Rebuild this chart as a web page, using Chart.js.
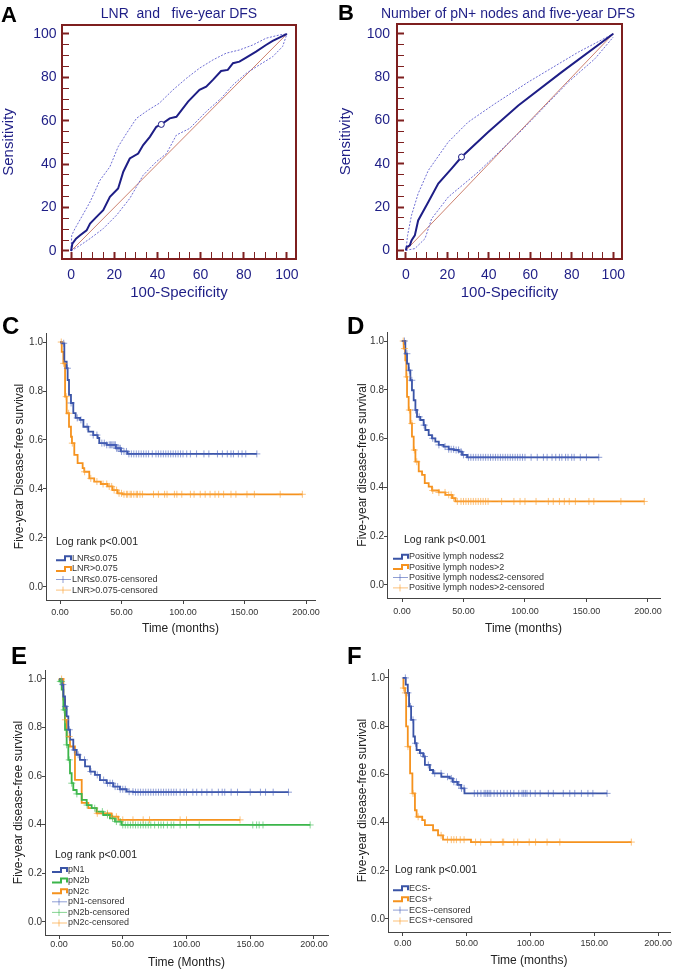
<!DOCTYPE html>
<html>
<head>
<meta charset="utf-8">
<script src="https://cdn.jsdelivr.net/npm/chart.js@4.4.1/dist/chart.umd.min.js"></script>
<style>
  body { margin: 0; background: #fff; width: 675px; height: 971px; position: relative; overflow: hidden; font-family: Arial, "Liberation Sans", sans-serif; }
  canvas { position: absolute; }
  .lt { position: absolute; font-weight: bold; color: #000; line-height: 1; }
  .rt { position: absolute; color: #1e1e86; font-size: 14px; text-align: center; white-space: pre; line-height: 1; }
</style>
</head>
<body>
<canvas id="cA" width="335" height="305" style="left:0;top:0"></canvas>
<canvas id="cB" width="340" height="305" style="left:335px;top:0"></canvas>
<canvas id="cC" width="335" height="330" style="left:0;top:310px"></canvas>
<canvas id="cD" width="340" height="330" style="left:335px;top:310px"></canvas>
<canvas id="cE" width="335" height="331" style="left:0;top:640px"></canvas>
<canvas id="cF" width="340" height="331" style="left:335px;top:640px"></canvas>

<div class="lt" style="left:1px;top:4px;font-size:22px">A</div>
<div class="lt" style="left:338px;top:2px;font-size:22px">B</div>
<div class="lt" style="left:2px;top:314px;font-size:24px">C</div>
<div class="lt" style="left:347px;top:314px;font-size:24px">D</div>
<div class="lt" style="left:11px;top:644px;font-size:24px">E</div>
<div class="lt" style="left:347px;top:644px;font-size:24px">F</div>
<div class="rt" style="left:59px;top:6px;width:240px">LNR  and   five-year DFS</div>
<div class="rt" style="left:378px;top:6px;width:260px">Number of pN+ nodes and five-year DFS</div>

<script>
Chart.defaults.font.family = 'Arial, "Liberation Sans", Helvetica, sans-serif';

// ---------- ROC A: LNR and five-year DFS ----------
const rocA_fpr  = [0, 0.6, 2.3, 4.2, 7.2, 8.8, 11.8, 14.9, 18, 21.8, 24.2, 27.2, 31.1, 33.4, 36.5, 39.5, 41.8, 45.7, 48.8, 54.2, 59.5, 62.6, 65.7, 69.5, 72.6, 75, 78, 81.1, 85.7, 90.3, 93.4, 96.5, 100];
const rocA_sens = [0, 3.4, 5.7, 7.2, 9.5, 12.6, 15.7, 18.8, 24.9, 28.8, 36.5, 42.6, 44.9, 48.8, 52.6, 57.2, 58.3, 61.1, 61.8, 68.8, 74.2, 75.7, 78.8, 82.9, 83.4, 86.5, 87.2, 89.1, 91.8, 94.9, 96.8, 98.3, 100];
const rocA_upFpr  = [0, 0.3, 1.8, 4.9, 8.8, 13.4, 18, 21.8, 25.7, 30.3, 35.7, 40.8, 47.2, 53.4, 59.5, 65.7, 71.8, 78, 84.2, 90.3, 96.5, 100];
const rocA_upSens = [0, 7.2, 10.3, 15.7, 22.6, 32.6, 38.8, 48, 54.2, 61.1, 64.9, 68, 74.2, 79.5, 84.2, 88, 91.1, 92.6, 94.9, 98, 99.5, 100];
const rocA_loFpr  = [0, 1.8, 4.2, 8.8, 14.9, 21.1, 27.2, 33.4, 39.5, 44.2, 48.8, 55, 62.6, 69.5, 75, 81.1, 87.2, 93.4, 98, 100];
const rocA_loSens = [0, 1.1, 2.6, 5.7, 10.3, 16.5, 24.2, 34.9, 41.1, 44.9, 53.4, 56.5, 64.2, 70.3, 76.5, 81.8, 85.7, 89.5, 94.2, 100];
const rocA_cut = [41.8, 58.3];

// ---------- ROC B: number of pN+ nodes and five-year DFS ----------
const rocB_fpr  = [0, 0.3, 1.9, 2.7, 4.3, 5.9, 10.8, 15.6, 22, 26.8, 39.7, 54.2, 75.1, 100];
const rocB_sens = [0, 1.5, 2.3, 4.6, 6.9, 13.8, 22.3, 30.8, 37.7, 43.1, 54.6, 66.9, 82.3, 100];
const rocB_upFpr  = [0, 0.8, 2.7, 5.9, 10.8, 20.4, 30, 42.9, 59, 83.1, 100];
const rocB_upSens = [0, 6.9, 16.2, 26.2, 36.9, 50, 59.2, 67.7, 77.7, 91.5, 100];
const rocB_loFpr  = [0, 4.3, 9.2, 12.4, 20.4, 34.9, 55.8, 78.3, 91.2, 100];
const rocB_loSens = [0, 0.8, 5.4, 14.6, 24.6, 36.2, 55.4, 77.7, 88.5, 98.5];
const rocB_cut = [26.8, 43.1];

const diagonal = [0, 100];
const rocTicks = [0, 5, 10, 15, 20, 25, 30, 35, 40, 45, 50, 55, 60, 65, 70, 75, 80, 85, 90, 95, 100];
const rocLabelled = [0, 20, 40, 60, 80, 100];

// ---------- Kaplan-Meier curves ----------
const kmYTicks = [0, 0.2, 0.4, 0.6, 0.8, 1.0];
const kmXTicks = [0, 50, 100, 150, 200];

// C: LNR
const lnrLow_t  = [0, 1.4, 3.5, 5.4, 6.2, 7.3, 8.9, 10.8, 12.7, 16.3, 19, 23, 27, 30.6, 31.9, 38, 45.4, 49.5, 54.9, 160];
const lnrLow_s  = [1, 0.995, 0.92, 0.893, 0.845, 0.784, 0.751, 0.71, 0.69, 0.682, 0.654, 0.634, 0.62, 0.608, 0.587, 0.58, 0.566, 0.553, 0.543, 0.543];
const lnrLow_cens = [3, 6, 9, 14, 17, 22, 27, 30, 34, 36, 38, 40, 41, 42, 43, 44, 45, 46, 47, 48, 49, 50, 52, 54, 56, 58, 60, 62, 64, 66, 68, 70, 72, 75, 78, 80, 82, 84, 86, 88, 90, 92, 94, 96, 98, 100, 103, 106, 111, 117, 121, 128, 132, 136, 139, 141, 145, 148, 151, 160];
const lnrHigh_t = [0, 1.4, 2.7, 4.1, 5.4, 7.3, 8.9, 9.7, 11.6, 14.3, 18.4, 19.7, 23.8, 27.8, 33.2, 38.6, 42.7, 46.8, 50.8, 197];
const lnrHigh_s = [1, 0.96, 0.913, 0.777, 0.709, 0.654, 0.613, 0.587, 0.539, 0.505, 0.485, 0.47, 0.443, 0.43, 0.42, 0.41, 0.395, 0.382, 0.378, 0.378];
const lnrHigh_cens = [1, 3, 5, 7, 10, 20, 25, 30, 35, 38, 40, 42, 44, 46, 48, 50, 52, 54, 55, 57, 58, 60, 62, 63, 65, 67, 76, 80, 85, 87, 93, 95, 99, 106, 109, 114, 118, 122, 126, 129, 133, 139, 143, 152, 158, 179, 197];

// D: number of positive lymph nodes
const pln2_t = [0, 2.7, 4.1, 5.4, 6.8, 8.1, 9.5, 10.9, 12.2, 14.9, 17.6, 19, 21.7, 24.4, 27.1, 29.9, 33.9, 38, 42.1, 46.1, 48.8, 52.9, 160];
const pln2_s = [1, 0.948, 0.907, 0.88, 0.839, 0.798, 0.757, 0.717, 0.689, 0.676, 0.655, 0.635, 0.614, 0.601, 0.587, 0.574, 0.567, 0.556, 0.553, 0.546, 0.533, 0.523, 0.523];
const pln2_cens = [2, 4, 6, 8, 11, 14, 18, 25, 30, 35, 38, 40, 42, 44, 46, 48, 50, 54, 56, 58, 60, 62, 64, 66, 68, 70, 72, 74, 76, 78, 80, 82, 84, 86, 88, 90, 92, 94, 96, 98, 100, 105, 110, 115, 118, 122, 125, 128, 130, 133, 135, 138, 140, 145, 150, 160];
const plnGt2_t = [0, 1.4, 2.7, 3.5, 4.1, 5.4, 6.8, 8.1, 9.5, 10.9, 13.6, 16.3, 18.5, 21.7, 24.4, 29.9, 35.3, 40.7, 43.4, 197];
const plnGt2_s = [1, 0.969, 0.921, 0.853, 0.771, 0.717, 0.662, 0.608, 0.553, 0.505, 0.465, 0.451, 0.417, 0.403, 0.387, 0.379, 0.369, 0.356, 0.342, 0.342];
const plnGt2_cens = [1, 2, 4, 6, 8, 10, 12, 25, 30, 35, 38, 40, 42, 45, 48, 50, 52, 54, 56, 58, 60, 62, 64, 66, 68, 70, 81, 91, 96, 100, 109, 119, 123, 128, 132, 136, 141, 152, 156, 178, 197];

// E: pN stage
const pN1_t = [0, 2.1, 3.4, 4.7, 6, 7.3, 8.6, 11.2, 13.8, 16.4, 20.4, 24.3, 28.2, 32.1, 37.3, 42.6, 47.8, 53, 58.2, 180];
const pN1_s = [1, 0.977, 0.928, 0.887, 0.846, 0.791, 0.75, 0.708, 0.688, 0.667, 0.64, 0.619, 0.605, 0.584, 0.571, 0.557, 0.546, 0.536, 0.534, 0.534];
const pN1_cens = [3, 5, 8, 12, 15, 20, 25, 30, 35, 38, 40, 42, 44, 46, 48, 50, 52, 55, 58, 60, 62, 64, 66, 68, 70, 72, 74, 76, 78, 80, 82, 84, 86, 88, 90, 92, 95, 98, 100, 105, 108, 112, 116, 120, 125, 128, 130, 135, 140, 150, 158, 162, 168, 180];
const pN2b_t = [0, 0.3, 2.1, 3.4, 4.7, 6, 7.3, 8.6, 9.9, 11.2, 13.8, 17.8, 21.7, 25.6, 29.5, 34.7, 39.9, 43.9, 49.1, 197];
const pN2b_s = [1, 0.99, 0.956, 0.873, 0.791, 0.729, 0.667, 0.612, 0.571, 0.543, 0.527, 0.502, 0.481, 0.468, 0.454, 0.44, 0.426, 0.413, 0.399, 0.399];
const pN2b_cens = [1, 2, 4, 6, 8, 10, 14, 22, 28, 34, 38, 42, 45, 48, 50, 52, 54, 56, 58, 60, 62, 64, 66, 68, 70, 72, 75, 78, 80, 82, 85, 88, 90, 95, 100, 110, 152, 155, 157, 160, 197];
const pN2c_t = [0, 3.4, 4.7, 6, 8.6, 12.5, 17.8, 23, 29.5, 41.2, 46.5, 142];
const pN2c_s = [1, 0.915, 0.832, 0.763, 0.722, 0.585, 0.49, 0.468, 0.447, 0.433, 0.42, 0.42];
const pN2c_cens = [2, 5, 8, 30, 38, 42, 45, 50, 58, 66, 71, 95, 100, 142];

// F: extracapsular spread
const ecsNeg_t = [0, 2.3, 3.9, 4.9, 6.5, 8.3, 9.5, 10.8, 13.4, 16, 17.3, 21.2, 23.7, 30.2, 36.6, 39.2, 43.1, 45.7, 48.3, 160];
const ecsNeg_s = [1, 0.972, 0.938, 0.882, 0.826, 0.757, 0.729, 0.701, 0.688, 0.674, 0.639, 0.618, 0.604, 0.59, 0.583, 0.569, 0.556, 0.542, 0.521, 0.521];
const ecsNeg_cens = [2, 4, 6, 8, 10, 14, 17, 20, 25, 30, 35, 38, 40, 42, 44, 46, 48, 56, 58.6, 61.2, 63.7, 65, 66.3, 67.6, 68.9, 71.5, 74, 76.6, 79.2, 81.8, 84.4, 87, 90.8, 93.4, 94.7, 96, 97.3, 99.9, 103.7, 107.6, 114, 117.9, 125.7, 130.8, 134.7, 139.9, 145, 148.9, 160];
const ecsPos_t = [0, 0.5, 1.8, 2.6, 3.9, 5.7, 7.5, 9.5, 10.8, 15.2, 17.3, 23.7, 27.6, 31.5, 53.4, 179];
const ecsPos_s = [1, 0.958, 0.938, 0.799, 0.715, 0.604, 0.521, 0.451, 0.424, 0.41, 0.389, 0.368, 0.347, 0.329, 0.319, 0.319];
const ecsPos_cens = [0.5, 2, 4, 8, 12, 30, 35, 38, 40, 42, 45, 48, 57, 61, 69, 78, 79, 87, 90, 99, 104, 113, 123, 179];

// ---------- styles ----------
const NAVY = '#1e1e86', CI = '#6d6dd4', DIAG = '#cc806e', FRAME = '#7e1f1f';
const BLUE = '#3a54a6', ORANGE = '#f5921e', GREEN = '#3bb54a';
const BLUE_L = 'rgba(70,95,185,0.6)', ORANGE_L = 'rgba(250,160,50,0.65)', GREEN_L = 'rgba(70,190,90,0.65)';

function pts(xs, ys) { return xs.map((x, i) => ({ x: x, y: ys[i] })); }
function stepAt(ts, ss, time) {
  let v = ss[0];
  for (let i = 0; i < ts.length; i++) { if (ts[i] <= time) v = ss[i]; }
  return v;
}

const framePlugin = {
  id: 'frame',
  afterDraw(chart) {
    const a = chart.chartArea, ctx = chart.ctx;
    ctx.save();
    ctx.strokeStyle = FRAME;
    ctx.lineWidth = 2;
    ctx.strokeRect(a.left, a.top, a.right - a.left, a.bottom - a.top);
    ctx.restore();
  }
};

function rocChart(id, c) {
  // one axis per side: ticks every 5, inward (negative length), labels only on multiples of 20
  const axis = (pos, min, max, size, text, titlePad, tickPad) => ({
    type: 'linear', position: pos, min: min, max: max,
    afterBuildTicks: s => { s.ticks = rocTicks.map(v => ({ value: v })); },
    afterFit: s => { if (pos === 'bottom') s.height = size; else s.width = size; },
    ticks: {
      color: NAVY, font: { size: 14 }, padding: tickPad, maxRotation: 0, autoSkip: false,
      callback: v => rocLabelled.includes(v) ? String(v) : ''
    },
    grid: {
      drawOnChartArea: false, tickLength: -7, tickColor: FRAME,
      tickWidth: ctx => (ctx.tick && rocLabelled.includes(ctx.tick.value)) ? 2 : 1
    },
    border: { display: false },
    title: { display: true, text: text, color: NAVY, font: { size: 15 }, padding: titlePad }
  });

  new Chart(document.getElementById(id), {
    type: 'line',
    data: {
      datasets: [
        { data: pts([c.cut[0]], [c.cut[1]]), pointRadius: 3, pointBackgroundColor: '#fff', pointBorderColor: NAVY, pointBorderWidth: 1, showLine: false },
        { data: pts(c.fpr, c.sens), borderColor: NAVY, borderWidth: 2, pointRadius: 0 },
        { data: pts(c.upFpr, c.upSens), borderColor: CI, borderWidth: 1, borderDash: [2, 1.5], pointRadius: 0 },
        { data: pts(c.loFpr, c.loSens), borderColor: CI, borderWidth: 1, borderDash: [2, 1.5], pointRadius: 0 },
        { data: pts(diagonal, diagonal), borderColor: DIAG, borderWidth: 1, pointRadius: 0 }
      ]
    },
    options: {
      responsive: false, animation: false,
      layout: { padding: { left: 0, top: c.top, right: c.right, bottom: 0 } },
      plugins: { legend: { display: false }, tooltip: { enabled: false } },
      scales: {
        x: axis('bottom', c.xmin, c.xmax, c.xh, '100-Specificity', { top: 0, bottom: 3 }, 14.6),
        y: axis('left', c.ymin, c.ymax, c.yw, 'Sensitivity', { top: c.ytp, bottom: 0 }, c.ylp)
      }
    },
    plugins: [framePlugin]
  });
}

const kmLegend = {
  id: 'kmLegend',
  afterDraw(chart, args, o) {
    const ctx = chart.ctx;
    ctx.save();
    ctx.textBaseline = 'middle';
    ctx.fillStyle = '#222';
    ctx.font = '10.5px Arial, "Liberation Sans", sans-serif';
    ctx.fillText('Log rank p<0.001', o.logX, o.logY);
    ctx.font = '9px Arial, "Liberation Sans", sans-serif';
    let y = o.rowY;
    const x = o.iconX;
    o.series.forEach(sr => {
      ctx.strokeStyle = sr.color; ctx.lineWidth = 2;
      ctx.beginPath();
      ctx.moveTo(x, y + 2); ctx.lineTo(x + 9, y + 2); ctx.lineTo(x + 9, y - 2);
      ctx.lineTo(x + 15, y - 2); ctx.lineTo(x + 15, y + 2);
      ctx.stroke();
      ctx.fillStyle = '#333';
      ctx.fillText(sr.label, x + 16, y);
      y += o.gap;
    });
    o.series.forEach(sr => {
      ctx.strokeStyle = sr.light; ctx.lineWidth = 1;
      ctx.beginPath();
      ctx.moveTo(x, y); ctx.lineTo(x + 15, y);
      ctx.moveTo(x + 7, y - 3.5); ctx.lineTo(x + 7, y + 3.5);
      ctx.stroke();
      ctx.fillStyle = '#333';
      ctx.fillText(sr.label + '-censored', x + 16, y);
      y += o.gap;
    });
    ctx.restore();
  }
};

function kmChart(id, c) {
  const datasets = [];
  c.series.forEach(sr => {
    datasets.push({ data: sr.cens.map(t => ({ x: t, y: stepAt(sr.t, sr.s, t) })), showLine: false,
      pointStyle: 'cross', pointRadius: 3.5, pointBorderColor: sr.light, pointBorderWidth: 1 });
  });
  c.series.forEach(sr => {
    datasets.push({ data: pts(sr.t, sr.s), borderColor: sr.color, borderWidth: 1.8, stepped: true, pointRadius: 0 });
  });
  new Chart(document.getElementById(id), {
    type: 'line',
    data: { datasets: datasets },
    options: {
      responsive: false, animation: false,
      layout: { padding: { left: 0, top: c.top, right: c.right, bottom: 0 } },
      plugins: {
        legend: { display: false }, tooltip: { enabled: false },
        kmLegend: { series: c.series, logX: c.leg[0], logY: c.leg[1], iconX: c.leg[2], rowY: c.leg[3], gap: c.leg[4] }
      },
      scales: {
        x: {
          type: 'linear', min: c.xmin, max: c.xmax,
          afterBuildTicks: s => { s.ticks = kmXTicks.map(v => ({ value: v })); },
          afterFit: s => { s.height = c.xh; },
          ticks: { color: '#333', font: { size: 9 }, padding: c.xlp, maxRotation: 0, autoSkip: false, callback: v => v.toFixed(2) },
          grid: { drawOnChartArea: false, tickLength: 4, tickColor: '#444' },
          border: { color: '#444', width: 1 },
          title: { display: true, text: c.xtitle, color: '#222', font: { size: 12 }, padding: { top: 0, bottom: c.xtp } }
        },
        y: {
          type: 'linear', min: -0.054, max: 1.037,
          afterBuildTicks: s => { s.ticks = kmYTicks.map(v => ({ value: v })); },
          afterFit: s => { s.width = c.yw; },
          ticks: { color: '#333', font: { size: 10 }, padding: 0, autoSkip: false, callback: v => v.toFixed(1) },
          grid: { drawOnChartArea: false, tickLength: 3, tickColor: '#444' },
          border: { color: '#444', width: 1 },
          title: { display: true, text: c.ytitle, color: '#222', font: { size: 12 }, padding: { top: c.ytp, bottom: 0 } }
        }
      }
    },
    plugins: [kmLegend]
  });
}

rocChart('cA', {
  fpr: rocA_fpr, sens: rocA_sens, upFpr: rocA_upFpr, upSens: rocA_upSens, loFpr: rocA_loFpr, loSens: rocA_loSens, cut: rocA_cut,
  xmin: -4.2, xmax: 104.2, ymin: -3.7, ymax: 104.1, top: 25, right: 39, xh: 46, yw: 62, ytp: 0, ylp: 12.5
});
rocChart('cB', {
  fpr: rocB_fpr, sens: rocB_sens, upFpr: rocB_upFpr, upSens: rocB_upSens, loFpr: rocB_loFpr, loSens: rocB_loSens, cut: rocB_cut,
  xmin: -4.3, xmax: 104.2, ymin: -4.0, ymax: 104.5, top: 24, right: 53, xh: 46, yw: 62, ytp: 2, ylp: 14
});

kmChart('cC', {
  series: [
    { label: 'LNR≤0.075', t: lnrLow_t, s: lnrLow_s, cens: lnrLow_cens, color: BLUE, light: BLUE_L },
    { label: 'LNR>0.075', t: lnrHigh_t, s: lnrHigh_s, cens: lnrHigh_cens, color: ORANGE, light: ORANGE_L }
  ],
  xmin: -11.4, xmax: 207.3, top: 23, right: 20, xh: 40, yw: 46, xlp: 2.9, xtp: 3.8, ytp: 12.8,
  xtitle: 'Time (months)', ytitle: 'Five-year Disease-free survival', leg: [56, 232, 56, 248.3, 10.6]
});
kmChart('cD', {
  series: [
    { label: 'Positive lymph nodes≤2', t: pln2_t, s: pln2_s, cens: pln2_cens, color: BLUE, light: BLUE_L },
    { label: 'Positive lymph nodes>2', t: plnGt2_t, s: plnGt2_s, cens: plnGt2_cens, color: ORANGE, light: ORANGE_L }
  ],
  xmin: -12.2, xmax: 209.8, top: 22, right: 15, xh: 42, yw: 52, xlp: 4.3, xtp: 3.8, ytp: 20.3,
  xtitle: 'Time (months)', ytitle: 'Five-year disease-free survival', leg: [69, 230, 58, 246.7, 10.4]
});
kmChart('cE', {
  series: [
    { label: 'pN1', t: pN1_t, s: pN1_s, cens: pN1_cens, color: BLUE, light: BLUE_L },
    { label: 'pN2b', t: pN2b_t, s: pN2b_s, cens: pN2b_cens, color: GREEN, light: GREEN_L },
    { label: 'pN2c', t: pN2c_t, s: pN2c_s, cens: pN2c_cens, color: ORANGE, light: ORANGE_L }
  ],
  xmin: -11, xmax: 211, top: 30, right: 7, xh: 36, yw: 45, xlp: 0.6, xtp: 1.1, ytp: 11.8,
  xtitle: 'Time (Months)', ytitle: 'Five-year disease-free survival', leg: [55, 215, 52, 230, 10.6]
});
kmChart('cF', {
  series: [
    { label: 'ECS-', t: ecsNeg_t, s: ecsNeg_s, cens: ecsNeg_cens, color: BLUE, light: BLUE_L },
    { label: 'ECS+', t: ecsPos_t, s: ecsPos_s, cens: ecsPos_cens, color: ORANGE, light: ORANGE_L }
  ],
  xmin: -11.6, xmax: 209.3, top: 29, right: 2, xh: 39, yw: 53, xlp: 2.6, xtp: 3, ytp: 20.3,
  xtitle: 'Time (months)', ytitle: 'Five-year disease-free survival', leg: [60, 230, 58, 248.3, 10.9]
});
</script>
</body>
</html>
